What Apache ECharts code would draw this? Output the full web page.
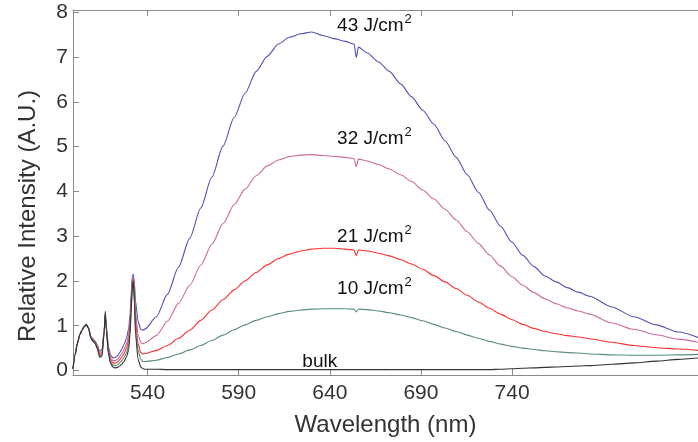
<!DOCTYPE html>
<html><head><meta charset="utf-8">
<script src="https://cdn.jsdelivr.net/npm/echarts@6/dist/echarts.min.js"></script>
<style>html,body{margin:0;padding:0;background:#fff}#c{width:698px;height:442px}</style>
</head><body><div id="c"></div>
<script>
// Wavelength (nm)
const wavelength = [499.1,500.3,501.5,502.8,504.0,505.2,506.4,507.6,508.9,510.1,511.3,512.5,513.7,515.0,516.2,516.8,517.4,518.6,519.8,521.0,522.3,523.5,524.7,525.9,527.1,528.4,529.6,530.4,531.0,531.6,532.2,532.8,533.4,534.8,536.3,537.5,538.7,
  544.8,550.9,557.0,563.1,569.2,575.3,581.4,587.5,593.5,599.6,605.7,611.8,617.9,624.0,630.1,636.2,642.3,648.4,653.3,654.5,655.7,660.6,666.7,672.7,678.8,684.9,691.0,697.1,703.2,709.3,715.4,721.5,727.6,733.7,739.8,745.9,752.0,758.1,764.2,770.3,776.4,782.5,794.6,806.8,819.0,831.2,842.0];
// Relative intensity per fluence
const bulk = [0.04,0.35,0.6,0.8,0.9,0.98,1.03,0.95,0.72,0.65,0.6,0.48,0.3,0.32,0.85,1.32,0.9,0.35,0.15,0.08,0.06,0.07,0.1,0.14,0.2,0.3,0.45,0.8,1.3,1.85,2.0,1.5,0.8,0.25,0.08,0.04,0.03,
  0.03,0.02,0.02,0.02,0.02,0.02,0.02,0.02,0.02,0.02,0.02,0.02,0.02,0.02,0.02,0.02,0.02,0.02,0.02,0.02,0.02,0.02,0.02,0.02,0.02,0.02,0.02,0.02,0.02,0.02,0.02,0.02,0.02,0.03,0.04,0.05,0.06,0.07,0.08,0.09,0.1,0.11,0.14,0.17,0.21,0.25,0.28];
const f10 = [0.04,0.36,0.6,0.8,0.9,0.98,1.02,0.95,0.73,0.66,0.61,0.5,0.33,0.35,0.85,1.28,0.9,0.38,0.19,0.12,0.11,0.13,0.17,0.22,0.29,0.4,0.56,0.9,1.35,1.88,2.02,1.6,0.95,0.45,0.25,0.2,0.2,
  0.23,0.29,0.37,0.46,0.56,0.67,0.79,0.91,1.02,1.12,1.2,1.27,1.32,1.35,1.37,1.38,1.38,1.38,1.37,1.31,1.37,1.36,1.33,1.29,1.24,1.18,1.11,1.03,0.95,0.87,0.79,0.72,0.65,0.59,0.54,0.5,0.47,0.44,0.42,0.4,0.39,0.37,0.35,0.34,0.34,0.35,0.36];
const f21 = [0.04,0.37,0.6,0.8,0.9,0.98,1.02,0.95,0.74,0.67,0.62,0.52,0.36,0.38,0.86,1.25,0.92,0.42,0.23,0.17,0.16,0.19,0.24,0.3,0.38,0.5,0.67,1.0,1.45,1.95,2.05,1.7,1.1,0.6,0.4,0.37,0.38,
  0.45,0.56,0.72,0.9,1.12,1.35,1.58,1.8,2.0,2.19,2.36,2.5,2.6,2.67,2.71,2.73,2.73,2.71,2.69,2.56,2.69,2.67,2.62,2.56,2.48,2.38,2.26,2.12,1.98,1.83,1.68,1.53,1.39,1.26,1.14,1.03,0.94,0.87,0.82,0.78,0.75,0.71,0.63,0.56,0.51,0.48,0.45];
const f32 = [0.04,0.37,0.6,0.8,0.9,0.98,1.02,0.95,0.75,0.68,0.63,0.54,0.39,0.42,0.87,1.22,0.94,0.46,0.28,0.22,0.22,0.25,0.31,0.38,0.47,0.6,0.78,1.1,1.55,2.0,2.08,1.8,1.3,0.8,0.62,0.6,0.62,
  0.78,1.1,1.5,1.9,2.35,2.82,3.28,3.7,4.05,4.35,4.57,4.7,4.78,4.81,4.82,4.8,4.78,4.76,4.73,4.55,4.72,4.68,4.6,4.5,4.37,4.22,4.03,3.83,3.6,3.36,3.1,2.84,2.58,2.33,2.1,1.9,1.74,1.6,1.49,1.4,1.33,1.26,1.06,0.92,0.8,0.7,0.63];
const f43 = [0.04,0.38,0.6,0.8,0.9,0.98,1.02,0.95,0.76,0.7,0.65,0.57,0.43,0.47,0.9,1.2,0.97,0.52,0.34,0.28,0.29,0.33,0.4,0.48,0.58,0.72,0.92,1.25,1.7,2.1,2.15,1.95,1.55,1.1,0.92,0.9,0.93,
  1.2,1.7,2.31,2.95,3.63,4.32,5.01,5.65,6.19,6.68,7.02,7.29,7.44,7.52,7.56,7.48,7.41,7.35,7.29,6.99,7.22,7.09,6.89,6.68,6.4,6.11,5.81,5.5,5.13,4.76,4.37,3.98,3.58,3.22,2.87,2.57,2.32,2.11,1.98,1.85,1.75,1.66,1.42,1.2,1.02,0.86,0.74];

const xTicks = [540, 590, 640, 690, 740];
const yTicks = [0, 1, 2, 3, 4, 5, 6, 7, 8];
const labelMain = ['43 J/cm', '32 J/cm', '21 J/cm', '10 J/cm', 'bulk'];
const labelSup = ['2', '2', '2', '2', ''];
const labelAt = [[664.5, 7.73], [664.5, 5.21], [664.5, 3.02], [664.5, 1.86], [634.5, 0.23]];

const font = '"Liberation Sans", Arial, sans-serif';
const axisGray = '#8a8a8a';
const textCol = '#333333';
const colors = ['#5151b3', '#cc6a9a', '#ff2f2f', '#5a8e72', '#333333'];
const seriesData = [f43, f32, f21, f10, bulk];

const chart = echarts.init(document.getElementById('c'), null, {renderer: 'canvas'});
const pairs = ys => wavelength.map((w, i) => [w, ys[i]]);

const series = seriesData.map((ys, k) => ({
  type: 'line', data: pairs(ys), showSymbol: false, symbol: 'none',
  lineStyle: {color: colors[k], width: 1.1},
  smooth: 0.25, smoothMonotone: 'x',
  z: 2 + k,
  markPoint: {
    symbol: 'circle', symbolSize: 1, itemStyle: {color: 'rgba(0,0,0,0)'},
    label: {
      show: true, position: 'inside',
      formatter: labelSup[k] ? '{b|' + labelMain[k] + '}{s|' + labelSup[k] + '}' : '{b|' + labelMain[k] + '}',
      rich: {
        b: {fontSize: 19, color: '#111', fontFamily: font, lineHeight: 22, verticalAlign: 'bottom'},
        s: {fontSize: 13, color: '#111', fontFamily: font, lineHeight: 13, verticalAlign: 'top', padding: [0, 0, 10, 1]}
      }
    },
    data: [{coord: labelAt[k]}]
  }
}));

const baseX = {
  type: 'value', min: 499.1, max: 842,
  axisLine: {onZero: false, lineStyle: {color: axisGray, width: 1}},
  axisTick: {inside: true, length: 6, customValues: xTicks, lineStyle: {color: axisGray}},
  splitLine: {show: false}
};

chart.setOption({
  animation: false,
  backgroundColor: '#ffffff',
  grid: {left: 73, right: 0, top: 10, bottom: 59, containLabel: false},
  xAxis: [
    Object.assign({}, baseX, {
      position: 'bottom',
      axisLabel: {customValues: xTicks, fontSize: 21, color: textCol, fontFamily: font, margin: 8},
      name: 'Wavelength (nm)', nameLocation: 'middle', nameGap: 38,
      nameTextStyle: {fontSize: 24, color: textCol, fontFamily: font}
    }),
    Object.assign({}, baseX, {position: 'top', axisLabel: {show: false}})
  ],
  yAxis: {
    type: 'value', min: -0.1, max: 8.05,
    axisLine: {onZero: false, lineStyle: {color: axisGray, width: 1}},
    axisTick: {inside: true, length: 6, customValues: yTicks, lineStyle: {color: axisGray}},
    axisLabel: {customValues: yTicks, fontSize: 21, color: textCol, fontFamily: font, margin: 5},
    splitLine: {show: false},
    name: 'Relative Intensity (A.U.)', nameLocation: 'middle', nameGap: 33,
    nameTextStyle: {fontSize: 24, color: textCol, fontFamily: font, padding: [0, 47, 0, 0]}
  },
  series: series
});
</script></body></html>
